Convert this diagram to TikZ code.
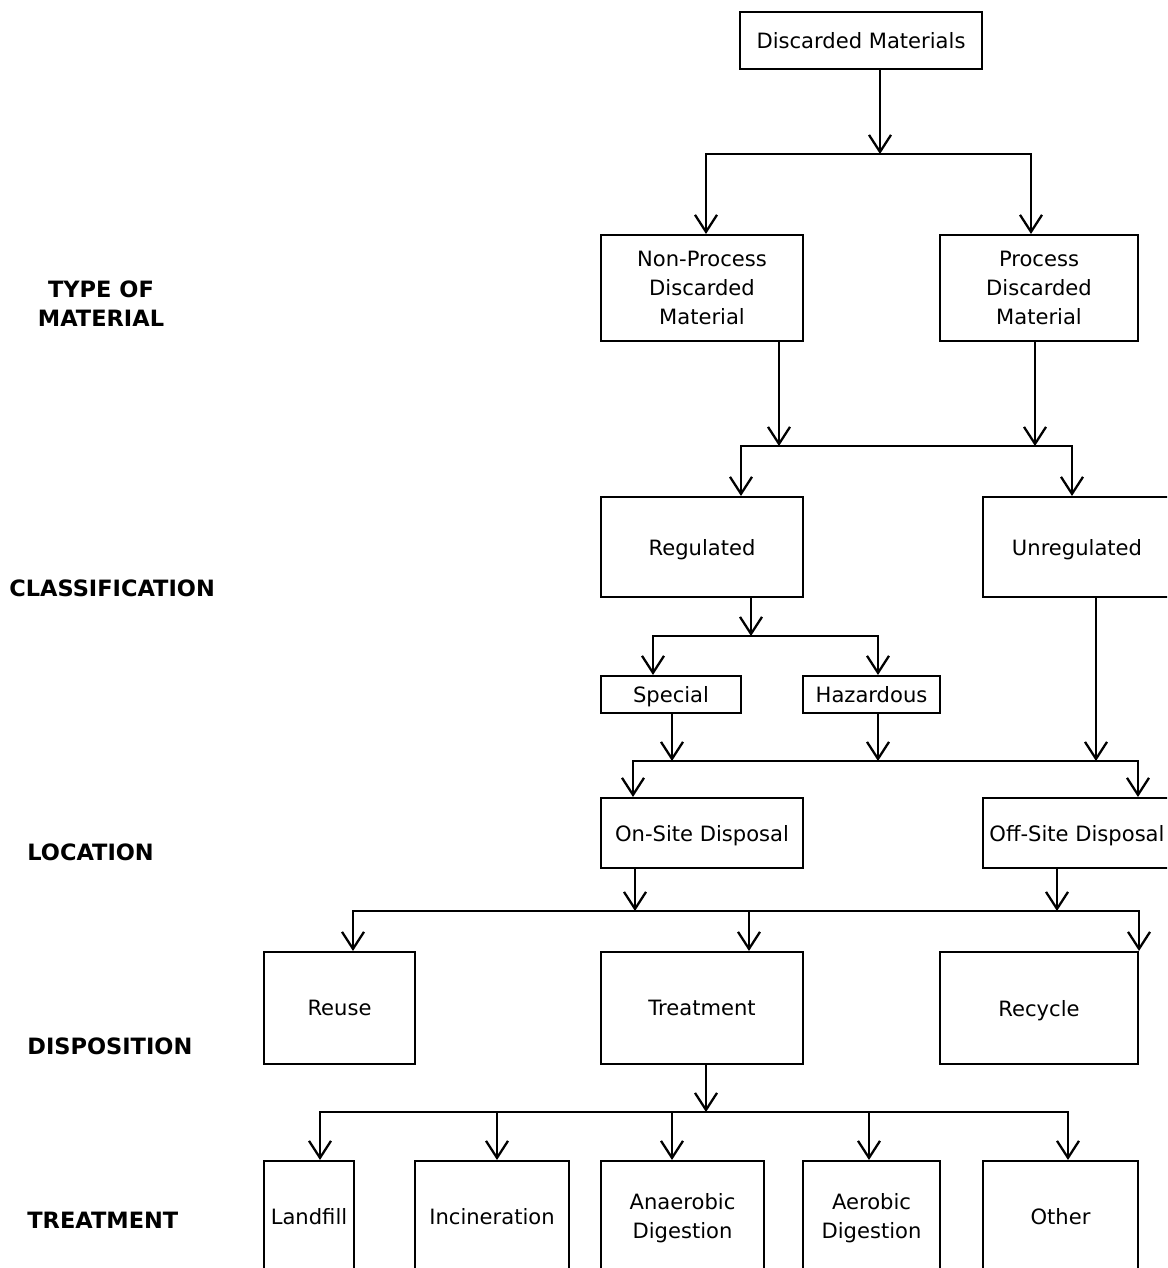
\documentclass[tikz,border=0pt]{standalone}
\usepackage{fontspec}
\setmainfont{DejaVu Sans}
\usepackage{tikz}
\usetikzlibrary{positioning, arrows.meta, calc}

\begin{document}
\begin{tikzpicture}[
  x=0.02cm, y=-0.02cm,
  box/.style={
    rectangle, draw=black, line width=1.2pt, fill=white,
    font=\fontsize{12}{16.5}\selectfont,
    text depth=0pt,
    align=center, inner sep=2pt
  },
  %% etiquetas de nivel, a la izquierda
  lvl/.style={
    font=\fontsize{12.8}{16.5}\selectfont\bfseries,
    align=center, inner sep=0pt
  },
  arr/.style={
    -{Straight Barb[length=3.4mm, width=4.4mm]}, line width=1.3pt
  },
  bus/.style={line width=1.3pt}
]

\useasboundingbox (0,0) rectangle (1167,1268);
\clip (0,0) rectangle (1167,1268);

%% ── Etiquetas de nivel ──────────────────────────────────────────────────────
\node[lvl] (lvtype) at (101,304) {TYPE OF\\MATERIAL};
\node[lvl, anchor=west] (lvclass) at (9,588)  {CLASSIFICATION};
\node[lvl, anchor=west] (lvloc)   at (27,852) {LOCATION};
\node[lvl, anchor=west] (lvdisp)  at (27,1046) {DISPOSITION};
\node[lvl, anchor=west] (lvtreat) at (27,1220) {TREATMENT};

%% ── Raíz ────────────────────────────────────────────────────────────────────
\node[box, minimum width=4.84cm, minimum height=1.14cm] (dm) at (861,40.5)
  {Discarded Materials};

%% ── Tipo de material ────────────────────────────────────────────────────────
\node[box, minimum width=4.04cm, minimum height=2.12cm] (np) at (702,288)
  {Non-Process\\Discarded\\Material};
\node[box, minimum width=3.96cm, minimum height=2.12cm] (pr) at (1039,288)
  {Process\\Discarded\\Material};

%% ── Clasificación ───────────────────────────────────────────────────────────
\node[box, minimum width=4.04cm, minimum height=2.0cm] (rg) at (702,547)
  {Regulated};
\node[box, minimum width=3.76cm, minimum height=2.0cm] (ur) at (1077,547)
  {Unregulated};
\node[box, minimum width=2.8cm, minimum height=0.74cm] (sp) at (671,694.5)
  {Special};
\node[box, minimum width=2.74cm, minimum height=0.74cm] (hz) at (871.5,694.5)
  {Hazardous};

%% ── Ubicación ───────────────────────────────────────────────────────────────
\node[box, minimum width=4.04cm, minimum height=1.4cm] (on) at (702,833)
  {On-Site Disposal};
\node[box, minimum width=3.76cm, minimum height=1.4cm] (off) at (1077,833)
  {Off-Site Disposal};

%% ── Disposición ─────────────────────────────────────────────────────────────
\node[box, minimum width=3.02cm, minimum height=2.24cm] (ru) at (339.5,1008)
  {Reuse};
\node[box, minimum width=4.04cm, minimum height=2.24cm] (tr) at (702,1008)
  {Treatment};
\node[box, minimum width=3.96cm, minimum height=2.24cm] (rc) at (1039,1008)
  {Recycle};

%% ── Tratamiento ─────────────────────────────────────────────────────────────
\node[box, minimum width=1.8cm,  minimum height=2.2cm] (lf) at (309,1216)
  {Landfill};
\node[box, minimum width=3.08cm, minimum height=2.2cm] (inc) at (492,1216)
  {Incineration};
\node[box, minimum width=3.26cm, minimum height=2.2cm] (ana) at (682.5,1216)
  {Anaerobic\\Digestion};
\node[box, minimum width=2.74cm, minimum height=2.2cm] (aer) at (871.5,1216)
  {Aerobic\\Digestion};
\node[box, minimum width=3.1cm,  minimum height=2.2cm] (oth) at (1060.5,1216)
  {Other};

%% ────────────────── FLECHAS ────────────────────────────────────────────────

%% Raíz → tipo de material
\coordinate (j1) at (880,154);
\draw[arr] (dm.south -| j1) -- (j1);
\draw[arr] (j1) -| ([xshift=0.08cm]np.north);
\draw[arr] (j1) -| ([xshift=-0.16cm]pr.north);

%% Tipo de material → clasificación
\coordinate (j2a) at (779,446);
\coordinate (j2b) at (1035,446);
\draw[bus] (j2a) -- (j2b);
\draw[arr] (np.south -| j2a) -- (j2a);
\draw[arr] (pr.south -| j2b) -- (j2b);
\draw[arr] (j2a) -| ([xshift=0.78cm]rg.north);
\draw[arr] (j2b) -| ([xshift=-0.1cm]ur.north);

%% Regulated → Special / Hazardous
\coordinate (j3) at (751,636);
\draw[arr] (rg.south -| j3) -- (j3);
\draw[arr] (j3) -| ([xshift=-0.36cm]sp.north);
\draw[arr] (j3) -| ([xshift=0.13cm]hz.north);

%% Clasificación → ubicación
\coordinate (j4a) at (672,761);
\coordinate (j4b) at (878,761);
\coordinate (j4c) at (1096,761);
\draw[bus] (j4a) -- (j4c);
\draw[arr] (sp.south -| j4a) -- (j4a);
\draw[arr] (hz.south -| j4b) -- (j4b);
\draw[arr] (ur.south -| j4c) -- (j4c);
\draw[arr] (j4a) -| ([xshift=-1.38cm]on.north);
\draw[arr] (j4c) -| ([xshift=1.22cm]off.north);

%% Ubicación → disposición
\coordinate (j5a) at (635,911);
\coordinate (j5b) at (1057,911);
\draw[bus] (j5a) -- (j5b);
\draw[arr] (on.south -| j5a) -- (j5a);
\draw[arr] (off.south -| j5b) -- (j5b);
\draw[arr] (j5a) -| ([xshift=0.27cm]ru.north);
\draw[arr] (j5a) -| ([xshift=0.94cm]tr.north);
\draw[arr] (j5b) -| (rc.north east);

%% Treatment → tratamientos
\coordinate (j6) at (706,1112);
\draw[arr] (tr.south -| j6) -- (j6);
\draw[arr] (j6) -| ([xshift=0.22cm]lf.north);
\draw[arr] (j6) -| ([xshift=0.1cm]inc.north);
\draw[arr] (j6) -| ([xshift=-0.21cm]ana.north);
\draw[arr] (j6) -| ([xshift=-0.05cm]aer.north);
\draw[arr] (j6) -| ([xshift=0.15cm]oth.north);

\end{tikzpicture}
\end{document}
